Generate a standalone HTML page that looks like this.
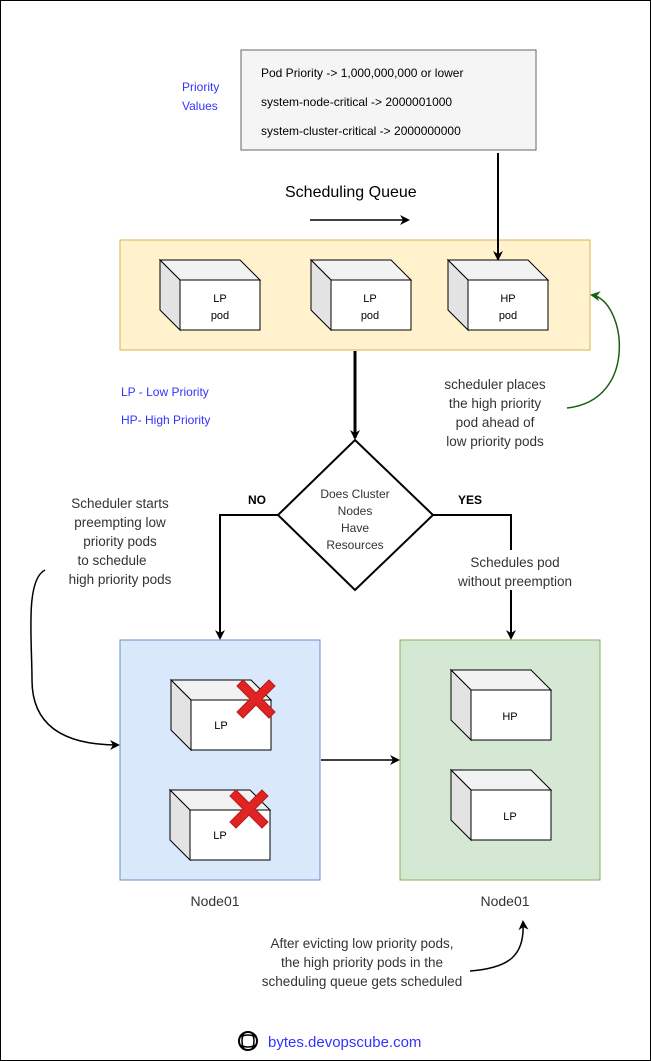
<!DOCTYPE html>
<html><head><meta charset="utf-8"><style>
html,body{margin:0;padding:0;background:#fff}
svg{display:block}
text{font-family:"Liberation Sans",sans-serif}
</style></head><body>
<svg width="651" height="1061" viewBox="0 0 651 1061" xmlns="http://www.w3.org/2000/svg">
<defs>
<marker id="ah" markerWidth="10" markerHeight="10" refX="8" refY="5" orient="auto" markerUnits="userSpaceOnUse"><path d="M0,0 L10,5 L0,10 L3,5 z" fill="#000"/></marker>
<marker id="ag" markerWidth="10" markerHeight="10" refX="8" refY="5" orient="auto" markerUnits="userSpaceOnUse"><path d="M0,0 L10,5 L0,10 L3,5 z" fill="#1a5e12"/></marker>
<g id="cube">
<path d="M0,0 L80,0 L100,20 L20,20 Z" fill="#f2f2f2" stroke="#000" stroke-width="1"/>
<path d="M0,0 L20,20 L20,70 L0,50 Z" fill="#e3e3e3" stroke="#000" stroke-width="1"/>
<rect x="20" y="20" width="80" height="50" fill="#fff" stroke="#000" stroke-width="1"/>
</g>
<g id="xx">
<path d="M-19,-13 L-13,-19 L0,-6 L13,-19 L19,-13 L6,0 L19,13 L13,19 L0,6 L-13,19 L-19,13 L-6,0 Z" fill="#e02424" stroke="#b71c1c" stroke-width="1"/>
</g>
</defs>
<rect x="0.5" y="0.5" width="650" height="1060" fill="none" stroke="#000"/>

<rect x="241" y="50" width="295" height="100" fill="#f5f5f5" stroke="#666"/>
<text x="261" y="77" font-size="12">Pod Priority -&gt;  1,000,000,000 or lower</text>
<text x="261" y="106" font-size="12">system-node-critical -&gt; 2000001000</text>
<text x="261" y="135" font-size="12">system-cluster-critical -&gt; 2000000000</text>
<text x="182" y="91" font-size="12" fill="#3333ff">Priority</text>
<text x="182" y="110" font-size="12" fill="#3333ff">Values</text>

<text x="285" y="197" font-size="16">Scheduling Queue</text>
<line x1="310" y1="220" x2="408" y2="220" stroke="#000" stroke-width="1.5" marker-end="url(#ah)"/>

<rect x="120" y="240" width="470" height="110" fill="#fff2cc" stroke="#d6b656"/>
<use href="#cube" x="160" y="260"/>
<use href="#cube" x="311" y="260"/>
<use href="#cube" x="448" y="260"/>
<line x1="498" y1="153" x2="498" y2="259" stroke="#000" stroke-width="2" marker-end="url(#ah)"/>
<g font-size="11" text-anchor="middle">
<text x="220" y="302">LP</text><text x="220" y="319">pod</text>
<text x="370" y="302">LP</text><text x="370" y="319">pod</text>
<text x="508" y="302">HP</text><text x="508" y="319">pod</text>
</g>

<text x="121" y="396" font-size="12" fill="#3333ff">LP - Low Priority</text>
<text x="121" y="424" font-size="12" fill="#3333ff">HP- High Priority</text>

<line x1="355" y1="351" x2="355" y2="438" stroke="#000" stroke-width="3" marker-end="url(#ah)"/>

<g font-size="13.5" fill="#333" text-anchor="middle">
<text x="495" y="389">scheduler places</text>
<text x="495" y="408">the high priority</text>
<text x="495" y="427">pod ahead of</text>
<text x="495" y="446">low priority pods</text>
</g>
<path d="M567,408 C640,400 625,300 592,295" fill="none" stroke="#1a5e12" stroke-width="1.5" marker-end="url(#ag)"/>

<path d="M355,440 L433,515 L355,590 L278,515 Z" fill="#fff" stroke="#000" stroke-width="2"/>
<g font-size="12" fill="#333" text-anchor="middle">
<text x="355" y="498">Does Cluster</text>
<text x="355" y="515">Nodes</text>
<text x="355" y="532">Have</text>
<text x="355" y="549">Resources</text>
</g>
<text x="248" y="504" font-size="12" font-weight="bold">NO</text>
<text x="458" y="504" font-size="12" font-weight="bold">YES</text>
<path d="M278,515 L220,515 L220,638" fill="none" stroke="#000" stroke-width="2" marker-end="url(#ah)"/>
<path d="M433,515 L511,515 L511,550 M511,590 L511,638" fill="none" stroke="#000" stroke-width="2" marker-end="url(#ah)"/>
<g font-size="13.5" fill="#333" text-anchor="middle">
<text x="515" y="567">Schedules pod</text>
<text x="515" y="586">without preemption</text>
<text x="120" y="508">Scheduler starts</text>
<text x="120" y="527">preempting low</text>
<text x="120" y="546">priority pods</text>
<text x="112" y="565">to schedule</text>
<text x="120" y="584">high priority pods</text>
</g>
<path d="M45,570 C25,580 32,640 32,680 C32,730 70,745 118,745" fill="none" stroke="#000" stroke-width="1.5" marker-end="url(#ah)"/>

<rect x="120" y="640" width="200" height="240" fill="#dae8fc" stroke="#6c8ebf"/>
<rect x="400" y="640" width="200" height="240" fill="#d5e8d4" stroke="#82b366"/>
<use href="#cube" x="171" y="680"/>
<use href="#cube" x="170" y="790"/>
<use href="#cube" x="451" y="670"/>
<use href="#cube" x="451" y="770"/>
<use href="#xx" x="256" y="699"/>
<use href="#xx" x="249" y="809"/>
<g font-size="11" text-anchor="middle">
<text x="221" y="729">LP</text>
<text x="220" y="839">LP</text>
<text x="510" y="720">HP</text>
<text x="510" y="820">LP</text>
</g>
<line x1="321" y1="760" x2="398" y2="760" stroke="#000" stroke-width="1.5" marker-end="url(#ah)"/>

<text x="215" y="906" font-size="14" fill="#333" text-anchor="middle">Node01</text>
<text x="505" y="906" font-size="14" fill="#333" text-anchor="middle">Node01</text>

<g font-size="13.5" fill="#333" text-anchor="middle">
<text x="362" y="948">After evicting low priority pods,</text>
<text x="362" y="967">the high priority pods in the</text>
<text x="362" y="986">scheduling queue gets scheduled</text>
</g>
<path d="M470,971 C510,968 525,955 523,922" fill="none" stroke="#000" stroke-width="1.5" marker-end="url(#ah)"/>

<circle cx="248" cy="1041" r="9" fill="none" stroke="#000" stroke-width="2"/>
<path d="M240,1037 Q248,1033 256,1037 M240,1045 Q248,1049 256,1045 M244,1033 Q240,1041 244,1049 M252,1033 Q256,1041 252,1049" fill="none" stroke="#000" stroke-width="1.5"/>
<text x="268" y="1047" font-size="15" fill="#3333ff">bytes.devopscube.com</text>
</svg>
</body></html>
